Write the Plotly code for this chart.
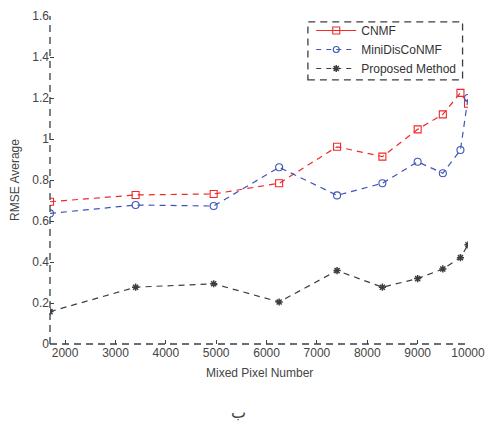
import plotly.graph_objects as go

# Mixed pixel counts used in the experiment
pixels = [1700, 3400, 4950, 6250, 7400, 8300, 9000, 9500, 9850, 10000]

# Average RMSE per method
rmse_cnmf = [0.694, 0.727, 0.732, 0.784, 0.962, 0.914, 1.047, 1.120, 1.225, 1.172]
rmse_minidisco = [0.637, 0.678, 0.673, 0.862, 0.725, 0.784, 0.889, 0.833, 0.946, 1.200]
rmse_proposed = [0.158, 0.277, 0.294, 0.205, 0.358, 0.277, 0.319, 0.366, 0.421, 0.484]

y_ticks = [0, 0.2, 0.4, 0.6, 0.8, 1.0, 1.2, 1.4, 1.6]
y_tick_text = ["0", "0.2", "0.4", "0.6", "0.8", "1", "1.2", "1.4", "1.6"]
x_ticks = [2000, 3000, 4000, 5000, 6000, 7000, 8000, 9000, 10000]
x_tick_text = [str(v) for v in x_ticks]

RED = "#f0282a"
BLUE = "#3f56b8"
DARK = "#3a3f44"
DASH = "6px,5px"
FONT = "Liberation Sans, Arial, sans-serif"

fig = go.Figure()

fig.add_trace(go.Scatter(
    x=pixels, y=rmse_cnmf, mode="lines+markers", showlegend=False,
    line=dict(color=RED, width=1.2, dash=DASH),
    marker=dict(symbol="square-open", size=7, color=RED, line=dict(width=1.1)),
))
fig.add_trace(go.Scatter(
    x=pixels, y=rmse_minidisco, mode="lines+markers", showlegend=False,
    line=dict(color=BLUE, width=1.2, dash=DASH),
    marker=dict(symbol="circle-open", size=7, color=BLUE, line=dict(width=1.1)),
))
fig.add_trace(go.Scatter(
    x=pixels, y=rmse_proposed, mode="lines+markers", showlegend=False,
    line=dict(color=DARK, width=1.2, dash=DASH),
    marker=dict(symbol="asterisk-open", size=6, color=DARK, line=dict(width=1.5, color=DARK)),
))

# Legend entries
fig.add_trace(go.Scatter(
    x=[None], y=[None], mode="lines+markers", name="CNMF",
    line=dict(color=RED, width=1.2),
    marker=dict(symbol="square-open", size=7, color=RED, line=dict(width=1.1)),
))
fig.add_trace(go.Scatter(
    x=[None], y=[None], mode="lines+markers", name="MiniDisCoNMF",
    line=dict(color=BLUE, width=1.2, dash="5px,5px"),
    marker=dict(symbol="circle-open", size=6, color=BLUE, line=dict(width=1.1)),
))
fig.add_trace(go.Scatter(
    x=[None], y=[None], mode="lines+markers", name="Proposed Method",
    line=dict(color=DARK, width=1.2, dash="5px,5px"),
    marker=dict(symbol="asterisk-open", size=6, color=DARK, line=dict(width=1.5, color=DARK)),
))

shapes = [
    # dashed axis lines
    dict(type="line", xref="paper", yref="paper", x0=0, x1=0, y0=0, y1=1,
         line=dict(color=DARK, width=1.3, dash="7px,5px")),
    dict(type="line", xref="paper", yref="paper", x0=0, x1=1, y0=0, y1=0,
         line=dict(color=DARK, width=1.3, dash="7px,5px")),
    # dashed legend frame
    dict(type="rect", xref="paper", yref="paper", x0=0.617, x1=0.987, y0=0.805, y1=0.982,
         line=dict(color=DARK, width=1.3, dash="7px,5px"), fillcolor="rgba(0,0,0,0)"),
]

fig.update_layout(
    width=485, height=423,
    margin=dict(l=50, r=17, t=16, b=79, autoexpand=False),
    paper_bgcolor="white", plot_bgcolor="white",
    font=dict(family=FONT, size=12, color="#444"),
    shapes=shapes,
    showlegend=True,
    legend=dict(x=0.625, y=1.0, xanchor="left", yanchor="top",
                bgcolor="rgba(0,0,0,0)", borderwidth=0,
                font=dict(family=FONT, size=12, color="#333"), tracegroupgap=0,
                itemwidth=40),
    xaxis=dict(range=[1700, 10000], tickvals=x_ticks, ticktext=x_tick_text,
               ticks="inside", ticklen=4, tickcolor=DARK, showgrid=False,
               zeroline=False, showline=False, ticklabeloverflow="allow",
               automargin=False,
               tickfont=dict(family=FONT, size=12, color="#444")),
    yaxis=dict(range=[0, 1.6], tickvals=y_ticks, ticktext=y_tick_text, ticks="inside",
               ticklen=4, tickcolor=DARK, showgrid=False, zeroline=False, showline=False,
               automargin=False,
               tickfont=dict(family=FONT, size=12, color="#444")),
    annotations=[
        dict(text="Mixed Pixel Number", xref="paper", yref="paper", x=0.5, y=-0.087,
             showarrow=False, font=dict(family=FONT, size=12, color="#444"),
             yanchor="middle"),
        dict(text="RMSE Average", xref="paper", yref="paper", x=-0.084, y=0.5,
             textangle=-90, showarrow=False, font=dict(family=FONT, size=12, color="#444"),
             xanchor="center", yanchor="middle"),
        dict(text="ب", xref="paper", yref="paper", x=0.45, y=-0.21,
             showarrow=False, font=dict(family="DejaVu Sans, sans-serif", size=16, color="#444"),
             yanchor="middle"),
    ],
)

fig.write_html("out.html")
